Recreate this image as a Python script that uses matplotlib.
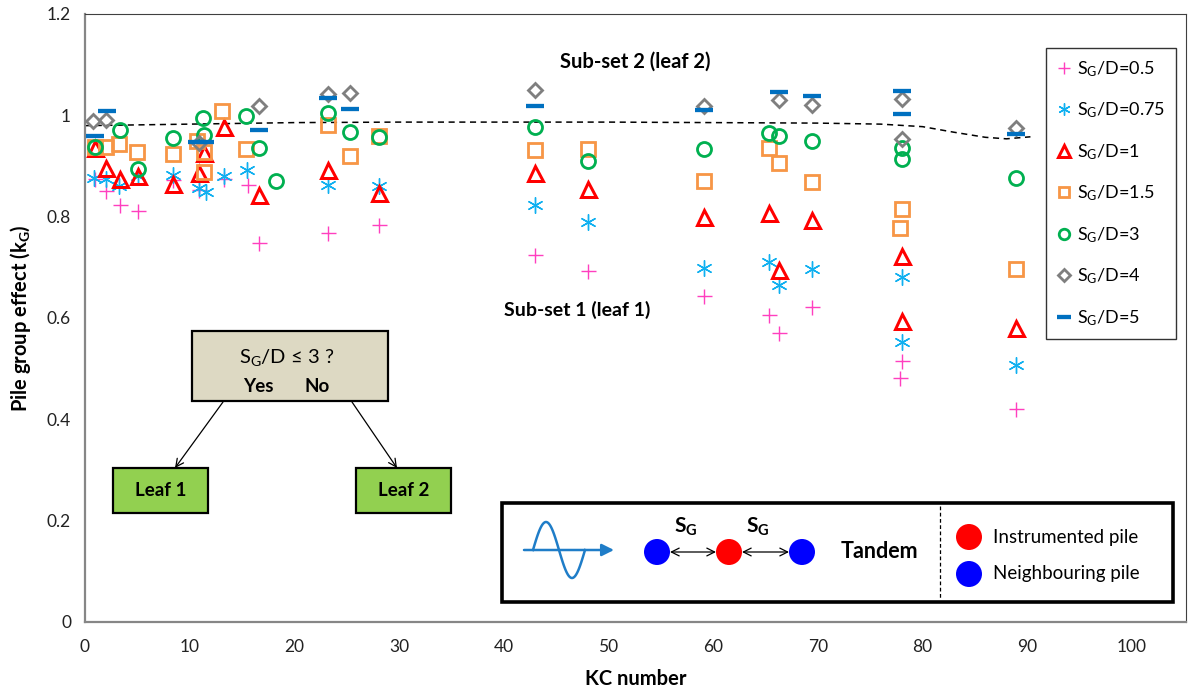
import numpy as np
import matplotlib
matplotlib.use('Agg')
import matplotlib.pyplot as plt
from matplotlib.patches import Rectangle, Ellipse, FancyArrowPatch
from matplotlib.lines import Line2D

plt.rcParams['font.family'] = ['Lato', 'DejaVu Sans']
plt.rcParams['mathtext.fontset'] = 'custom'
plt.rcParams['mathtext.rm'] = 'Lato'
plt.rcParams['mathtext.it'] = 'Lato'
plt.rcParams['mathtext.bf'] = 'Lato:bold'

# ---------------- data ----------------
kc_05 = [1.0, 2.0, 3.3, 5.1, 8.4, 10.9, 13.3, 15.6, 16.6, 23.2, 28.1, 43.0, 48.0, 59.1, 65.3, 66.3, 69.4, 78.0, 77.8, 88.9]
kg_05 = [0.874, 0.850, 0.823, 0.811, 0.872, 0.853, 0.874, 0.862, 0.747, 0.768, 0.783, 0.724, 0.693, 0.643, 0.606, 0.570, 0.622, 0.514, 0.481, 0.420]

kc_075 = [0.9, 2.0, 3.2, 5.1, 8.4, 10.9, 11.6, 13.3, 15.5, 23.2, 28.1, 43.0, 48.0, 59.1, 65.3, 66.3, 69.4, 78.0, 78.0, 88.9]
kg_075 = [0.876, 0.874, 0.860, 0.879, 0.882, 0.856, 0.849, 0.879, 0.892, 0.862, 0.860, 0.822, 0.788, 0.698, 0.711, 0.665, 0.696, 0.681, 0.553, 0.507]

kc_1 = [1.0, 2.0, 3.3, 5.1, 8.4, 10.9, 11.4, 13.3, 16.6, 23.2, 28.1, 43.0, 48.0, 59.1, 65.3, 66.3, 69.4, 78.0, 78.0, 88.9]
kg_1 = [0.935, 0.895, 0.874, 0.879, 0.864, 0.885, 0.925, 0.977, 0.843, 0.892, 0.847, 0.885, 0.854, 0.799, 0.806, 0.695, 0.793, 0.721, 0.593, 0.579]

kc_15 = [1.0, 2.0, 3.2, 5.0, 8.4, 10.7, 11.4, 11.4, 13.1, 15.4, 23.2, 25.3, 28.1, 43.0, 48.0, 59.1, 65.3, 66.3, 69.4, 78.0, 77.8, 88.9]
kg_15 = [0.937, 0.937, 0.942, 0.927, 0.924, 0.949, 0.928, 0.887, 1.007, 0.933, 0.981, 0.920, 0.959, 0.930, 0.933, 0.870, 0.935, 0.905, 0.868, 0.815, 0.777, 0.696]

kc_3 = [1.0, 3.3, 5.1, 8.4, 11.3, 11.4, 15.4, 16.6, 18.2, 23.2, 25.3, 28.1, 43.0, 48.0, 59.1, 65.3, 66.3, 69.4, 78.0, 78.0, 88.9]
kg_3 = [0.937, 0.971, 0.894, 0.955, 0.994, 0.961, 0.998, 0.935, 0.870, 1.003, 0.966, 0.957, 0.977, 0.910, 0.932, 0.964, 0.958, 0.949, 0.935, 0.914, 0.876]

kc_4 = [0.8, 2.0, 10.9, 16.6, 23.2, 25.3, 43.0, 59.1, 66.3, 69.4, 78.0, 78.0, 88.9]
kg_4 = [0.989, 0.991, 0.945, 1.018, 1.042, 1.043, 1.050, 1.018, 1.030, 1.020, 1.032, 0.953, 0.974]

kc_5 = [1.0, 2.1, 10.7, 11.5, 16.6, 23.2, 25.3, 43.0, 59.1, 66.3, 69.4, 78.0, 78.0, 88.9]
kg_5 = [0.958, 1.007, 0.946, 0.946, 0.971, 1.033, 1.012, 1.018, 1.009, 1.045, 1.037, 1.047, 1.002, 0.963]

trend_kc = [0, 10, 20, 30, 40, 50, 60, 70, 76, 80, 83, 86, 88, 90.3]
trend_kg = [0.979, 0.982, 0.985, 0.986, 0.986, 0.986, 0.985, 0.984, 0.982, 0.977, 0.966, 0.956, 0.953, 0.957]

labels = ['0.5', '0.75', '1', '1.5', '3', '4', '5']
x_ticks = [0, 10, 20, 30, 40, 50, 60, 70, 80, 90, 100]
y_ticks = [0, 0.2, 0.4, 0.6, 0.8, 1.0, 1.2]
y_ticklabels = ['0', '0.2', '0.4', '0.6', '0.8', '1', '1.2']

# ---------------- figure ----------------
W, H = 1190, 694
fig = plt.figure(figsize=(W / 100, H / 100), dpi=100)
ax_l, ax_r, ax_t, ax_b = 85, 1186, 13.6, 622
ax = fig.add_axes([ax_l / W, 1 - ax_b / H, (ax_r - ax_l) / W, (ax_b - ax_t) / H])
ax.set_xlim(0, 100 * (ax_r - ax_l) / (1132 - ax_l))
ax.set_ylim(0, 1.2)

PT = 72 / 100.0  # px -> pt

styles = [
    dict(marker='+', color='#FF3FBF', ms=15 * PT, mew=1.4 * PT, mfc='none'),
    dict(marker=(6, 2, 0), color='#10B0F0', ms=16 * PT, mew=1.4 * PT, mfc='none'),
    dict(marker='^', color='#FF0000', ms=15 * PT, mew=3.0 * PT, mfc='none'),
    dict(marker='s', color='#F79646', ms=13.5 * PT, mew=2.8 * PT, mfc='none'),
    dict(marker='o', color='#00B050', ms=14 * PT, mew=2.8 * PT, mfc='none'),
    dict(marker='D', color='#7F7F7F', ms=10.5 * PT, mew=2.8 * PT, mfc='none'),
    dict(marker='_', color='#0070C0', ms=18 * PT, mew=4.3 * PT, mfc='none'),
]
series = [(kc_05, kg_05), (kc_075, kg_075), (kc_1, kg_1), (kc_15, kg_15),
          (kc_3, kg_3), (kc_4, kg_4), (kc_5, kg_5)]

handles = []
for (xs, ys), st, lab in zip(series, styles, labels):
    h, = ax.plot(xs, ys, linestyle='none', marker=st['marker'], markersize=st['ms'],
                 markeredgewidth=st['mew'], markeredgecolor=st['color'],
                 markerfacecolor=st['mfc'], label=r'S$_\mathregular{G}$/D=' + lab, zorder=3)
    handles.append(h)

ax.plot(trend_kc, trend_kg, color='black', linestyle=(0, (4, 3)), lw=1.1, zorder=2)

ax.set_xticks(x_ticks)
ax.set_yticks(y_ticks)
ax.set_yticklabels(y_ticklabels)
ax.tick_params(length=0, labelsize=12.5, pad=10, colors='#222222')
ax.tick_params(axis='x', pad=12)
for s in ['left', 'bottom']:
    ax.spines[s].set_color('#868686')
    ax.spines[s].set_linewidth(1.6)
for s in ['top', 'right']:
    ax.spines[s].set_color('#404040')
    ax.spines[s].set_linewidth(0.8)

ax.set_xlabel('KC number', fontsize=14.5, fontweight='bold', labelpad=10)
ax.set_ylabel(r'Pile group effect (k$_\mathbf{G}$)', fontsize=14.5, fontweight='bold', labelpad=10)

leg = ax.legend(handles=handles, loc='upper left',
                bbox_to_anchor=((1046 - ax_l) / (ax_r - ax_l), (ax_b - 48) / (ax_b - ax_t)),
                borderaxespad=0, frameon=True, fancybox=False, edgecolor='black',
                fontsize=13, labelspacing=1.21, handlelength=0.8, handletextpad=0.3,
                borderpad=0.6, markerscale=0.75)
leg.get_frame().set_linewidth(1.0)

# sub-set labels (data coordinates)
ax.text(45.4, 1.105, 'Sub-set 2 (leaf 2)', fontsize=14.5, fontweight='bold', va='center', ha='left')
ax.text(40.0, 0.616, 'Sub-set 1 (leaf 1)', fontsize=14, fontweight='bold', va='center', ha='left')


# ---------------- figure-pixel helpers for drawings ----------------
def fx(px):
    return px / W


def fy(py):
    return 1 - py / H


def rect(x0, y0, x1, y1, fc, lw, ec='black'):
    r = Rectangle((fx(x0), fy(y1)), (x1 - x0) / W, (y1 - y0) / H, transform=fig.transFigure,
                  facecolor=fc, edgecolor=ec, linewidth=lw, zorder=5)
    fig.add_artist(r)


def arrow(p0, p1, style='->', lw=0.9, ms=14, color='black'):
    a = FancyArrowPatch((fx(p0[0]), fy(p0[1])), (fx(p1[0]), fy(p1[1])), transform=fig.transFigure,
                        arrowstyle=style, mutation_scale=ms, linewidth=lw, color=color, zorder=6,
                        shrinkA=0, shrinkB=0)
    fig.add_artist(a)


def ftext(x, y, s, **kw):
    fig.text(fx(x), fy(y), s, zorder=7, **kw)


def circle(cx, cy, color, r=13):
    e = Ellipse((fx(cx), fy(cy)), 2 * r / W, 2 * r / H, transform=fig.transFigure,
                facecolor=color, edgecolor='none', zorder=6)
    fig.add_artist(e)


# decision tree
rect(192, 331, 388, 401, '#DDD9C3', 1.6)
ftext(287, 357, r'S$_\mathregular{G}$/D ≤ 3 ?', fontsize=14.5, ha='center', va='center')
ftext(258, 387, 'Yes', fontsize=13.5, fontweight='bold', ha='center', va='center')
ftext(317, 387, 'No', fontsize=13.5, fontweight='bold', ha='center', va='center')
rect(113, 468, 208, 513, '#92D050', 1.6)
rect(356, 468, 451, 513, '#92D050', 1.6)
ftext(160.5, 491, 'Leaf 1', fontsize=13.5, fontweight='bold', ha='center', va='center')
ftext(403.5, 491, 'Leaf 2', fontsize=13.5, fontweight='bold', ha='center', va='center')
arrow((223, 402), (175, 468))
arrow((352, 402), (397, 468))

# bottom-right schematic
rect(502, 503, 1173, 602, 'white', 2.6)
fig.add_artist(Line2D([fx(940), fx(940)], [fy(506), fy(599)], transform=fig.transFigure,
                      color='black', lw=0.9, linestyle=(0, (3, 2)), zorder=6))
# wave icon
wx = np.linspace(533, 585, 80)
wy = 550 - 28 * np.sin(2 * np.pi * (wx - 533) / 52)
fig.add_artist(Line2D(fx(wx), fy(wy), transform=fig.transFigure, color='#1F7DC8', lw=1.8, zorder=6))
arrow((524, 550), (614, 550), style='-|>', lw=1.8, ms=18, color='#1F7DC8')
# piles
circle(657, 552, '#0000FF')
circle(729, 552, '#FF0000')
circle(802, 552, '#0000FF')
arrow((670, 552), (716, 552), style='<->', lw=0.9, ms=14)
arrow((742, 552), (789, 552), style='<->', lw=0.9, ms=14)
ftext(686, 527, r'S$_\mathbf{G}$', fontsize=15, fontweight='bold', ha='center', va='center')
ftext(758, 527, r'S$_\mathbf{G}$', fontsize=15, fontweight='bold', ha='center', va='center')
ftext(879, 552, 'Tandem', fontsize=15.5, fontweight='bold', ha='center', va='center')
circle(969, 537, '#FF0000')
circle(969, 574, '#0000FF')
ftext(993, 537, 'Instrumented pile', fontsize=13.5, ha='left', va='center')
ftext(993, 574, 'Neighbouring pile', fontsize=13.5, ha='left', va='center')

fig.savefig('out.png', dpi=100)
